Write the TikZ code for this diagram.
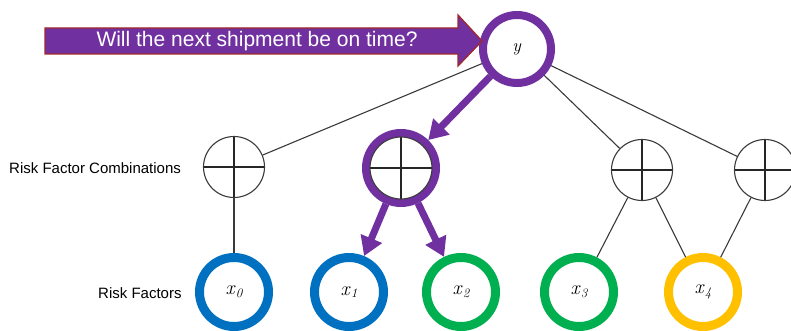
\documentclass[tikz,border=0pt]{standalone}
\usepackage{fontspec}
\newfontfamily\labelfont{Liberation Sans}
\usetikzlibrary{arrows.meta}
\definecolor{qpurple}{HTML}{7030A0}
\definecolor{qred}{HTML}{A0282D}
\definecolor{qblue}{HTML}{0070C0}
\definecolor{qgreen}{HTML}{00B050}
\definecolor{qyellow}{HTML}{FFC000}
\definecolor{edgegray}{HTML}{3A3A3A}
% italic variable with an old-style subscript index
\newcommand{\var}[2]{\textit{#1}\raisebox{-0.3ex}{\fontsize{13}{14}\selectfont\itshape\addfontfeature{Numbers=OldStyle}#2}}
\tikzset{
  link/.style={draw=edgegray, line width=1.1pt},
  hot/.style={draw=qpurple, line width=7pt, -{Triangle[width=22pt,length=19pt]}},
  ring/.style={circle, draw=#1, line width=9pt, minimum size=69pt, inner sep=0pt, fill=white,
    text=black, font=\fontsize{20}{22}\selectfont},
  combo/.style={circle, draw=edgegray, line width=1.1pt, minimum size=61pt, inner sep=0pt, fill=white,
    path picture={\draw[line width=1.1pt, draw=black!85]
      (path picture bounding box.north) -- (path picture bounding box.south)
      (path picture bounding box.west) -- (path picture bounding box.east);}},
  rowlabel/.style={anchor=west, inner sep=0pt, text=black,
    font=\labelfont\fontsize{15}{18}\selectfont},
}
\begin{document}
\begin{tikzpicture}[x=1pt, y=-1pt]
  \useasboundingbox (0,0) rectangle (791,331);
  \clip (0,0) rectangle (791,331);

  % output node
  \node[ring=qpurple, line width=8pt, minimum size=68pt, font=\fontsize{18}{20}\selectfont] (y) at (517,49) {\textit{y}};

  % question banner pointing at the output
  \coordinate (tip) at (482,41);
  \filldraw[fill=qpurple, draw=qred, line width=1.3pt]
    (45,28) -- (458,28) -- (458,15) -- (tip) -- (458,66) -- (458,54) -- (45,54) -- cycle;
  \node[text=white, inner sep=0pt, font=\labelfont\fontsize{21}{24}\selectfont] (question) at (257,41)
    {Will the next shipment be on time?};

  % risk factor combinations
  \node[combo] (c1) at (234,167) {};
  \node[ring=qpurple, line width=8pt, minimum size=70pt] (c2ring) at (401,168) {};
  \node[combo, minimum size=62pt] (c2) at (401,168) {};
  \node[combo] (c3) at (642,170) {};
  \node[combo] (c4) at (765,170) {};

  % risk factors
  \node[ring=qblue]   (x0) at (234,292) {\var{x}{0}};
  \node[ring=qblue]   (x1) at (349,292) {\var{x}{1}};
  \node[ring=qgreen]  (x2) at (461,292) {\var{x}{2}};
  \node[ring=qgreen]  (x3) at (579,292) {\var{x}{3}};
  \node[ring=qyellow] (x4) at (703,292) {\var{x}{4}};

  % row labels
  \node[rowlabel] (lcomb) at (9,168) {Risk Factor Combinations};
  \node[rowlabel] (lfact) at (98,293) {Risk Factors};

  % plain connectors
  \draw[link] (y) -- (c1);
  \draw[link] (y) -- (c3);
  \draw[link] (y) -- (c4);
  \draw[link] (c1) -- (x0);
  \draw[link] (c3) -- (x3);
  \draw[link] (c3) -- (x4);
  \draw[link] (c4) -- (x4);

  % highlighted path
  \draw[hot] (y) -- (c2ring);
  \draw[hot] (c2ring) -- (x1);
  \draw[hot] (c2ring) -- (x2);
\end{tikzpicture}
\end{document}
